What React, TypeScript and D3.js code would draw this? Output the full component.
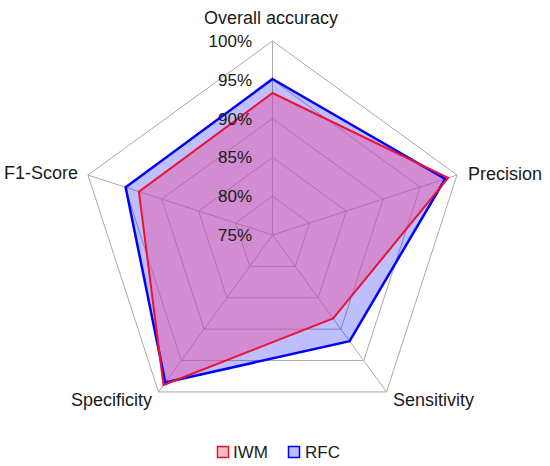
import React from "react";
import * as d3 from "d3";

const axes = ["Overall accuracy", "Precision", "Sensitivity", "Specificity", "F1-Score"];
const iwm = [93.3, 98.8, 88.3, 98.9, 93.1];
const rfc = [95.1, 98.4, 91.9, 98.5, 94.9];
const ticks = [75, 80, 85, 90, 95, 100];
const tickLabels = ["75%", "80%", "85%", "90%", "95%", "100%"];
const seriesNames = ["IWM", "RFC"];

const W = 550;
const H = 466;
const cx = 272.5;
const cy = 235;
const R = 194;
const FONT = "'Liberation Sans', Arial, sans-serif";

export default function App() {
  const r = d3.scaleLinear().domain([75, 100]).range([0, R]);
  const ang = d3.scaleLinear().domain([0, axes.length]).range([0, 2 * Math.PI]);
  const pt = (i: number, v: number): [number, number] => {
    const a = ang(i);
    return [cx + r(v) * Math.sin(a), cy - r(v) * Math.cos(a)];
  };
  const line = d3
    .lineRadial<number>()
    .angle((_, i) => ang(i))
    .radius((v) => r(v))
    .curve(d3.curveLinearClosed);

  const rings = ticks.slice(1);
  const labelPos = [
    { x: 271, y: 24, anchor: "middle" },
    { x: 468, y: 180, anchor: "start" },
    { x: 393, y: 406, anchor: "start" },
    { x: 152, y: 406, anchor: "end" },
    { x: 78, y: 179, anchor: "end" },
  ];

  return (
    <svg
      width={W}
      height={H}
      style={{ position: "absolute", left: 0, top: 0, background: "#fff" }}
      fontFamily={FONT}
    >
      <g>
        {rings.map((t) => (
          <polygon
            key={t}
            points={axes.map((_, i) => pt(i, t).join(",")).join(" ")}
            fill="none"
            stroke="#aaaaaa"
            strokeWidth={1}
          />
        ))}
        {axes.map((_, i) => {
          const [x, y] = pt(i, 100);
          return <line key={i} x1={cx} y1={cy} x2={x} y2={y} stroke="#aaaaaa" strokeWidth={1} />;
        })}
      </g>
      <g transform={`translate(${cx},${cy})`}>
        <path d={line(rfc) || ""} fill="rgb(0,0,255)" fillOpacity={0.25} stroke="none" />
        <path d={line(iwm) || ""} fill="rgb(229,89,165)" fillOpacity={0.5} stroke="none" />
        <path d={line(rfc) || ""} fill="none" stroke="#0000ff" strokeWidth={2.5} strokeLinejoin="miter" />
        <path d={line(iwm) || ""} fill="none" stroke="#ee1133" strokeWidth={2} strokeLinejoin="miter" />
      </g>
      <g fontSize={17} fill="#1a1a1a">
        {ticks.map((t, i) => (
          <text key={t} x={252} y={cy - r(t)} dy="0.35em" textAnchor="end">
            {tickLabels[i]}
          </text>
        ))}
      </g>
      <g fontSize={18} fill="#1a1a1a">
        {axes.map((a, i) => (
          <text key={a} x={labelPos[i].x} y={labelPos[i].y} textAnchor={labelPos[i].anchor as any}>
            {a}
          </text>
        ))}
      </g>
      <g fontSize={17} fill="#1a1a1a">
        <rect x={217.5} y={446.5} width={11} height={11} fill="rgb(248,190,195)" stroke="#ee1133" strokeWidth={1.5} />
        <text x={233} y={458}>{seriesNames[0]}</text>
        <rect x={288.5} y={446.5} width={11} height={11} fill="rgb(190,190,250)" stroke="#0000ff" strokeWidth={1.5} />
        <text x={305} y={458}>{seriesNames[1]}</text>
      </g>
    </svg>
  );
}
